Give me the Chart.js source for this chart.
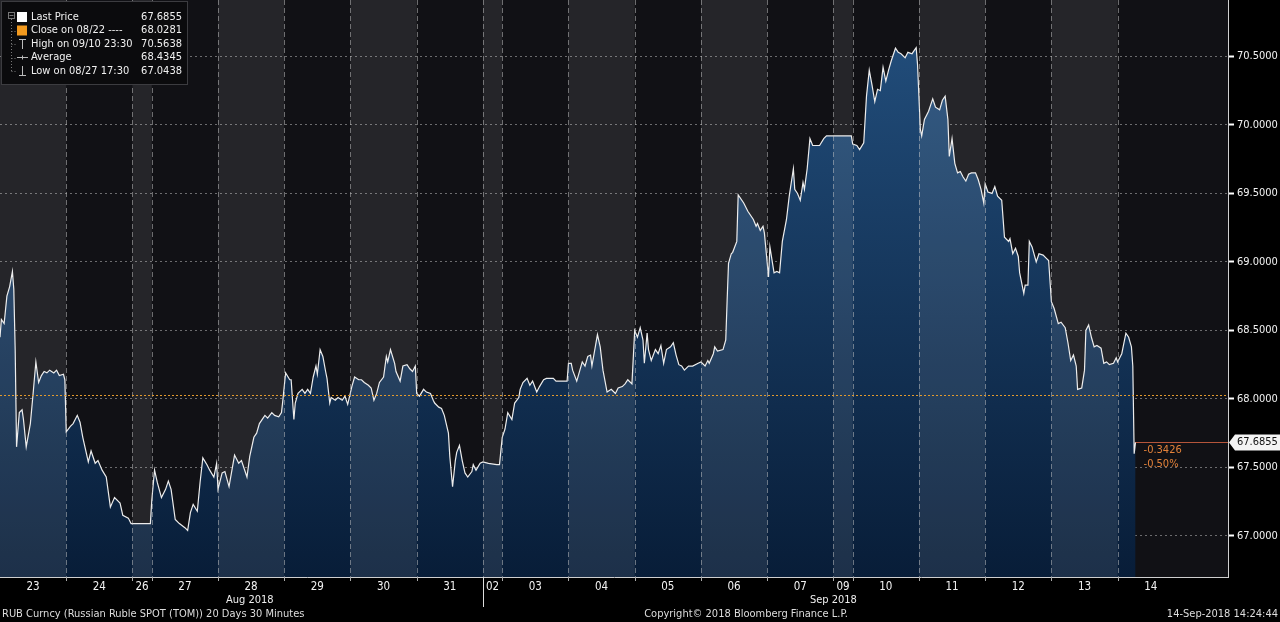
<!DOCTYPE html>
<html>
<head>
<meta charset="utf-8">
<script src="https://cdn.jsdelivr.net/npm/chart.js@4.4.1/dist/chart.umd.min.js"></script>
<style>
  html, body { margin: 0; padding: 0; background: #000; }
  #wrap { width: 1280px; height: 622px; }
</style>
</head>
<body>
<div id="wrap"><canvas id="chart" width="1280" height="622"></canvas></div>
<script>
// RUB spot, 30 minute bars. x = bar index from the start of the window, y = price
const dayLabels = ['23', '24', '26', '27', '28', '29', '30', '31', '02', '03', '04', '05', '06', '07', '09', '10', '11', '12', '13', '14'];
const dayStarts = [0, 48, 96, 110, 158, 206, 254, 302, 350, 364, 412, 460, 508, 556, 604, 618, 666, 714, 762, 810];
const windowEnd = 858;
const monthLabels = ['Aug 2018', 'Sep 2018'];
const monthLabelAt = [181, 604];
const monthBreak = 350;

const aug23 = [[0,68.45],[1,68.58],[3,68.55],[5,68.75],[7,68.82],[9,68.93],[10,68.80],[11,68.36],[12,67.65],[14,67.90],[16,67.92],[17,67.85],[19,67.65],[22,67.82],[24,68.04],[26,68.27],[28,68.12],[30,68.17],[32,68.20],[34,68.19],[36,68.21],[39,68.19],[41,68.21],[43,68.17],[46,68.18],[47,68.14]];
const aug24 = [[48,67.76],[51,67.80],[53,67.82],[56,67.88],[58,67.83],[60,67.72],[62,67.63],[64,67.54],[66,67.62],[69,67.53],[71,67.55],[74,67.48],[77,67.43],[80,67.21],[83,67.28],[87,67.24],[89,67.15],[93,67.13],[95,67.09]];
const aug26 = [[96,67.09],[109,67.09]];
const aug27 = [[110,67.26],[112,67.48],[114,67.39],[117,67.28],[120,67.34],[122,67.40],[124,67.34],[127,67.12],[130,67.09],[134,67.06],[136,67.04],[138,67.17],[140,67.23],[143,67.18],[145,67.39],[147,67.57],[150,67.52],[152,67.48],[155,67.43],[157,67.53]];
const aug28 = [[158,67.34],[161,67.46],[163,67.47],[166,67.36],[170,67.59],[173,67.53],[175,67.55],[179,67.43],[181,67.58],[184,67.72],[186,67.75],[188,67.82],[192,67.88],[194,67.86],[197,67.90],[199,67.88],[202,67.87],[204,67.90],[205,67.99]];
const aug29 = [[207,68.19],[210,68.14],[211,68.14],[213,67.85],[214,67.97],[216,68.04],[219,68.07],[221,68.04],[223,68.07],[225,68.04],[227,68.16],[229,68.24],[230,68.18],[232,68.36],[234,68.31],[236,68.20],[237,68.15],[239,67.97],[240,68.01],[243,67.99],[245,68.01],[248,67.99],[250,68.02],[252,67.96]];
const aug30 = [[255,68.09],[257,68.16],[260,68.14],[262,68.14],[264,68.12],[267,68.10],[269,68.08],[271,67.99],[273,68.04],[275,68.12],[278,68.16],[280,68.31],[281,68.27],[283,68.36],[286,68.26],[287,68.20],[290,68.13],[292,68.24],[295,68.25],[297,68.22],[299,68.20],[301,68.24]];
const aug31 = [[302,68.04],[304,68.02],[307,68.07],[309,68.05],[312,68.04],[314,67.99],[315,67.97],[318,67.94],[320,67.93],[322,67.88],[325,67.75],[326,67.58],[328,67.36],[330,67.55],[331,67.61],[333,67.66],[335,67.55],[337,67.46],[339,67.43],[342,67.47],[343,67.52],[345,67.48],[348,67.53]];
const sep02 = [[350,67.54],[354,67.53],[360,67.52],[362,67.52]];
const sep03 = [[364,67.72],[366,67.78],[368,67.90],[371,67.85],[373,67.97],[376,68.01],[377,68.07],[379,68.12],[382,68.15],[384,68.10],[386,68.13],[389,68.05],[391,68.09],[394,68.14],[396,68.15],[401,68.15],[403,68.13],[411,68.13]];
const sep04 = [[412,68.26],[414,68.26],[415,68.21],[418,68.13],[422,68.27],[424,68.24],[426,68.31],[428,68.32],[429,68.24],[433,68.47],[435,68.38],[437,68.21],[440,68.05],[443,68.07],[446,68.04],[448,68.08],[451,68.09],[453,68.11],[455,68.14],[458,68.11]];
const sep05 = [[460,68.50],[462,68.45],[464,68.52],[466,68.43],[467,68.26],[469,68.48],[470,68.36],[472,68.28],[475,68.36],[477,68.33],[479,68.39],[481,68.26],[483,68.36],[486,68.38],[488,68.41],[490,68.32],[492,68.25],[494,68.24],[496,68.21],[499,68.24],[502,68.24],[506,68.26]];
const sep06 = [[508,68.27],[511,68.24],[513,68.28],[514,68.26],[517,68.33],[518,68.38],[520,68.35],[524,68.36],[526,68.43],[527,68.72],[528,68.99],[530,69.06],[531,69.07],[534,69.15],[535,69.49],[539,69.43],[542,69.37],[546,69.31],[548,69.26],[549,69.28],[551,69.23],[553,69.26],[554,69.21]];
const sep07 = [[557,68.89],[558,69.11],[561,68.92],[563,68.93],[565,68.92],[567,69.15],[570,69.31],[572,69.48],[575,69.68],[576,69.53],[578,69.50],[580,69.45],[582,69.58],[583,69.53],[585,69.68],[587,69.90],[589,69.85],[592,69.85],[594,69.85],[597,69.90],[599,69.92]];
const sep09 = [[604,69.92],[617,69.92]];
const sep10 = [[618,69.86],[621,69.85],[623,69.82],[626,69.87],[628,70.21],[630,70.40],[632,70.29],[634,70.17],[636,70.26],[638,70.25],[640,70.42],[642,70.32],[644,70.40],[646,70.47],[649,70.56],[651,70.53],[653,70.52],[656,70.49],[658,70.53],[661,70.52],[663,70.55],[664,70.5638],[665,70.44]];
const sep11 = [[667,69.97],[668,69.92],[670,70.04],[673,70.10],[676,70.19],[678,70.13],[681,70.11],[683,70.18],[685,70.21],[687,70.04],[688,69.77],[690,69.90],[692,69.72],[694,69.65],[696,69.66],[698,69.62],[700,69.59],[702,69.64],[704,69.65],[707,69.65],[709,69.60],[711,69.53],[713,69.43]];
const sep12 = [[714,69.57],[716,69.51],[719,69.50],[721,69.55],[723,69.48],[726,69.45],[728,69.18],[731,69.15],[732,69.17],[734,69.06],[736,69.10],[738,69.04],[739,68.92],[742,68.77],[743,68.83],[745,68.83],[746,69.15],[748,69.11],[751,69.00],[753,69.06],[756,69.05],[758,69.03],[760,69.01]];
const sep13 = [[762,68.71],[764,68.66],[767,68.55],[769,68.56],[772,68.52],[774,68.41],[776,68.28],[778,68.32],[780,68.24],[781,68.07],[784,68.08],[786,68.21],[787,68.50],[789,68.54],[791,68.45],[793,68.38],[795,68.39],[798,68.37],[800,68.26],[802,68.27],[804,68.25],[807,68.26],[809,68.30]];
const sep14 = [[810,68.27],[813,68.33],[816,68.48],[818,68.45],[820,68.38],[821,68.24],[822,67.60],[823,67.6855]];

const yTicks = [67.0, 67.5, 68.0, 68.5, 69.0, 69.5, 70.0, 70.5];

const legendLabels = ['Last Price', 'Close on 08/22 ----', 'High on 09/10 23:30', 'Average', 'Low on 08/27 17:30'];
const legendValues = [67.6855, 68.0281, 70.5638, 68.4345, 67.0438];
const prevClose = 68.0281;

const footerLeft = 'RUB Curncy (Russian Ruble SPOT (TOM)) 20 Days 30 Minutes';
const footerMid = 'Copyright\u00A9 2018 Bloomberg Finance L.P.';
const footerRight = '14-Sep-2018 14:24:44';

const FONT = "'DejaVu Sans Condensed', 'Liberation Sans', Arial, sans-serif";

const series = [aug23, aug24, aug26, aug27, aug28, aug29, aug30, aug31, sep02, sep03,
    sep04, sep05, sep06, sep07, sep09, sep10, sep11, sep12, sep13, sep14]
    .flat().map(p => ({ x: p[0], y: p[1] }));
const last = series[series.length - 1];
const dayEnds = dayStarts.slice(1).concat([windowEnd]);
const dayCenters = dayStarts.map((s, i) => (s + dayEnds[i]) / 2);

// background, day bands, reference lines
const bloombergPlugin = {
    id: 'bloomberg',
    beforeDraw(chart) {
        const { ctx, chartArea: a } = chart;
        ctx.save();
        ctx.fillStyle = '#000';
        ctx.fillRect(0, 0, chart.width, chart.height);
        ctx.fillStyle = '#111115';
        ctx.fillRect(a.left, a.top, a.right - a.left, a.bottom - a.top);
        ctx.restore();
    },
    afterDatasetsDraw(chart) {
        const { ctx, chartArea: a, scales: { x, y } } = chart;
        ctx.save();
        // lighter band for every other session
        ctx.fillStyle = 'rgba(255,255,255,0.085)';
        dayStarts.forEach((s, i) => {
            if (i % 2 !== 0) return;
            const x1 = x.getPixelForValue(s);
            const x2 = x.getPixelForValue(dayEnds[i]);
            ctx.fillRect(x1, a.top, x2 - x1, a.bottom - a.top);
        });
        // session separators
        ctx.strokeStyle = 'rgba(200,200,200,0.5)';
        ctx.lineWidth = 1;
        ctx.setLineDash([5, 3]);
        dayStarts.forEach((s, i) => {
            if (i === 0) return;
            const px = Math.round(x.getPixelForValue(s)) + 0.5;
            ctx.beginPath();
            ctx.moveTo(px, a.top);
            ctx.lineTo(px, a.bottom);
            ctx.stroke();
        });
        // previous close
        const cy = Math.round(y.getPixelForValue(prevClose)) + 0.5;
        ctx.strokeStyle = '#e39a2c';
        ctx.setLineDash([2, 2]);
        ctx.beginPath();
        ctx.moveTo(a.left, cy);
        ctx.lineTo(a.right, cy);
        ctx.stroke();
        // last price
        const ly = Math.round(y.getPixelForValue(last.y)) + 0.5;
        ctx.setLineDash([]);
        ctx.strokeStyle = '#b5553a';
        ctx.beginPath();
        ctx.moveTo(x.getPixelForValue(last.x), ly);
        ctx.lineTo(a.right, ly);
        ctx.stroke();
        ctx.restore();
    },
    afterDraw(chart) {
        const { ctx, chartArea: a, scales: { x, y } } = chart;
        ctx.save();
        ctx.font = '11px ' + FONT;
        ctx.textBaseline = 'middle';

        // small ticks at session boundaries
        ctx.strokeStyle = '#aaa';
        dayStarts.forEach((s, i) => {
            if (i === 0) return;
            const px = Math.round(x.getPixelForValue(s)) + 0.5;
            ctx.beginPath();
            ctx.moveTo(px, a.bottom);
            ctx.lineTo(px, a.bottom + 4);
            ctx.stroke();
        });
        // month break
        const mb = Math.round(x.getPixelForValue(monthBreak)) + 0.5;
        ctx.strokeStyle = '#ddd';
        ctx.beginPath();
        ctx.moveTo(mb, a.bottom);
        ctx.lineTo(mb, a.bottom + 30);
        ctx.stroke();
        ctx.fillStyle = '#eee';
        ctx.textAlign = 'center';
        monthLabels.forEach((m, i) => ctx.fillText(m, x.getPixelForValue(monthLabelAt[i]), 600));

        // footer
        ctx.fillStyle = '#ddd';
        ctx.textAlign = 'left';
        ctx.fillText(footerLeft, 2, 614);
        ctx.textAlign = 'center';
        ctx.fillText(footerMid, 746, 614);
        ctx.textAlign = 'right';
        ctx.fillText(footerRight, 1278, 614);

        // last price tag on the axis
        const ly = Math.round(y.getPixelForValue(last.y)) + 0.5;
        ctx.fillStyle = '#f4f4f4';
        ctx.beginPath();
        ctx.moveTo(a.right + 1, ly);
        ctx.lineTo(a.right + 7, ly - 8);
        ctx.lineTo(chart.width, ly - 8);
        ctx.lineTo(chart.width, ly + 8);
        ctx.lineTo(a.right + 7, ly + 8);
        ctx.closePath();
        ctx.fill();
        ctx.fillStyle = '#111';
        ctx.textAlign = 'left';
        ctx.fillText(last.y.toFixed(4), a.right + 9, ly);

        // change vs previous close
        const chg = last.y - prevClose;
        ctx.fillStyle = '#e3823a';
        const tx = x.getPixelForValue(last.x) + 8;
        ctx.fillText(chg.toFixed(4), tx, ly + 8);
        ctx.fillText((chg / prevClose * 100).toFixed(2) + '%', tx, ly + 22);

        drawLegend(ctx);
        ctx.restore();
    }
};

function drawLegend(ctx) {
    ctx.save();
    ctx.fillStyle = '#0b0b0d';
    ctx.fillRect(1.5, 1.5, 186, 83);
    ctx.strokeStyle = '#3c3c40';
    ctx.lineWidth = 1;
    ctx.strokeRect(1.5, 1.5, 186, 83);

    const rowY = [17, 30.5, 44, 57.5, 71];
    // tree
    ctx.strokeStyle = '#777';
    ctx.strokeRect(8.5, 12.5, 6, 6);
    ctx.beginPath();
    ctx.moveTo(9.5, 15.5); ctx.lineTo(13.5, 15.5);
    ctx.stroke();
    ctx.setLineDash([1, 2]);
    ctx.beginPath();
    ctx.moveTo(11.5, 19); ctx.lineTo(11.5, rowY[4]);
    rowY.slice(1).forEach(ry => { ctx.moveTo(11.5, Math.round(ry) + 0.5); ctx.lineTo(16, Math.round(ry) + 0.5); });
    ctx.stroke();
    ctx.setLineDash([]);

    // icons
    ctx.fillStyle = '#fff';
    ctx.fillRect(17, rowY[0] - 5, 10, 10);
    ctx.fillStyle = '#f39a1e';
    ctx.fillRect(17, rowY[1] - 5, 10, 10);
    ctx.strokeStyle = '#bbb';
    ctx.beginPath();
    ctx.moveTo(19, rowY[2] - 4.5); ctx.lineTo(26, rowY[2] - 4.5);
    ctx.moveTo(22.5, rowY[2] - 4.5); ctx.lineTo(22.5, rowY[2] + 5);
    ctx.moveTo(17, rowY[3]); ctx.lineTo(28, rowY[3]);
    ctx.moveTo(22.5, rowY[3] - 2); ctx.lineTo(22.5, rowY[3] + 2);
    ctx.moveTo(22.5, rowY[4] - 5); ctx.lineTo(22.5, rowY[4] + 4.5);
    ctx.moveTo(19, rowY[4] + 4.5); ctx.lineTo(26, rowY[4] + 4.5);
    ctx.stroke();

    ctx.font = '11px ' + FONT;
    ctx.textBaseline = 'middle';
    ctx.fillStyle = '#f0f0f0';
    legendLabels.forEach((lab, i) => {
        ctx.textAlign = 'left';
        ctx.fillText(lab, 31, rowY[i]);
        ctx.textAlign = 'right';
        ctx.fillText(legendValues[i].toFixed(4), 182, rowY[i]);
    });
    ctx.restore();
}

const ctx = document.getElementById('chart').getContext('2d');
new Chart(ctx, {
    type: 'line',
    data: {
        datasets: [{
            label: 'Last Price',
            data: series,
            borderColor: '#ececec',
            borderWidth: 1.2,
            pointRadius: 0,
            tension: 0,
            fill: 'start',
            backgroundColor: (c) => {
                const area = c.chart.chartArea;
                if (!area) return '#143258';
                const g = c.chart.ctx.createLinearGradient(0, area.top, 0, area.bottom);
                g.addColorStop(0, '#23507f');
                g.addColorStop(1, '#081d38');
                return g;
            }
        }]
    },
    options: {
        responsive: false,
        animation: false,
        devicePixelRatio: 1,
        layout: { padding: 0 },
        plugins: {
            legend: { display: false },
            tooltip: { enabled: false }
        },
        scales: {
            x: {
                type: 'linear',
                min: 0,
                max: 890,
                afterBuildTicks: (s) => { s.ticks = dayCenters.map(v => ({ value: v })); },
                afterFit: (s) => { s.height = 45; s.paddingLeft = 0; s.paddingRight = 0; },
                ticks: {
                    autoSkip: false,
                    maxRotation: 0,
                    padding: 3,
                    color: '#f2f2f2',
                    font: { family: FONT, size: 11.5 },
                    callback: (v, i) => dayLabels[i]
                },
                grid: { display: false, drawTicks: false },
                border: { display: true, color: '#cfcfcf', width: 1 }
            },
            y: {
                position: 'right',
                min: 66.70,
                max: 70.912,
                z: 1,
                afterBuildTicks: (s) => { s.ticks = yTicks.map(v => ({ value: v })); },
                afterFit: (s) => { s.width = 52; s.paddingTop = 0; s.paddingBottom = 0; },
                ticks: {
                    padding: 3,
                    color: '#f2f2f2',
                    font: { family: FONT, size: 11 },
                    callback: (v) => Number(v).toFixed(4)
                },
                grid: {
                    color: 'rgba(200,200,200,0.5)',
                    drawTicks: true,
                    tickLength: 6,
                    tickColor: '#fff',
                    tickWidth: 2
                },
                border: { display: true, color: '#d0d0d0', width: 1, dash: [2, 3] }
            }
        }
    },
    plugins: [bloombergPlugin]
});
</script>
</body>
</html>
